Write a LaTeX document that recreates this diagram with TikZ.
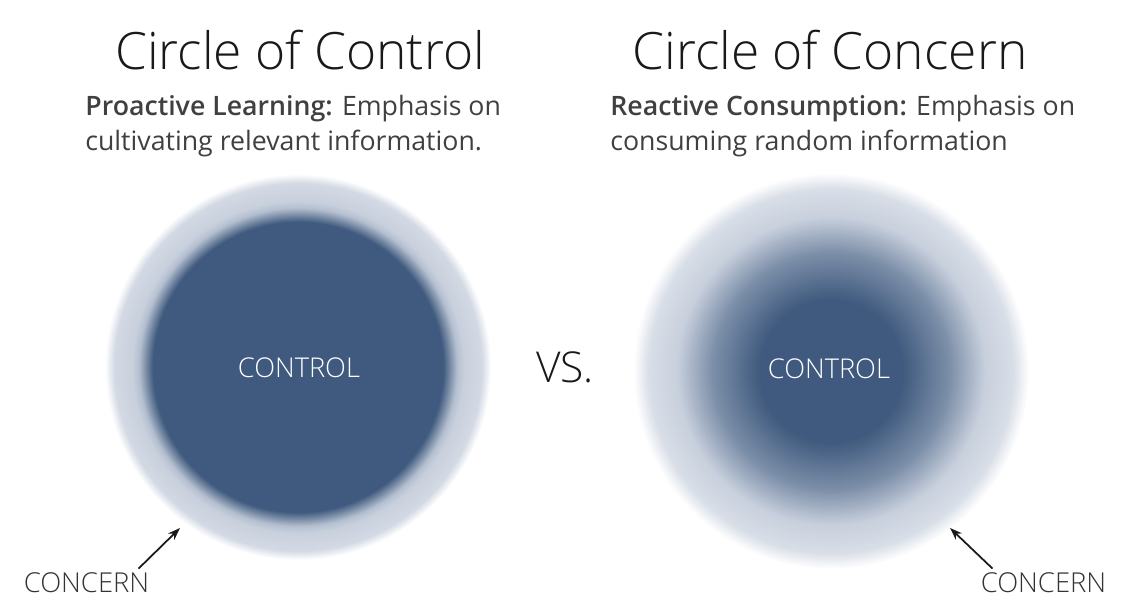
\documentclass[tikz,border=0pt]{standalone}
\usepackage{fontspec}
\setmainfont{Open Sans}
\newfontfamily\lightfont{Open Sans Light}
\newfontfamily\semifont{Open Sans Semibold}
\usepackage{tikz}
\usetikzlibrary{arrows.meta,positioning}
\definecolor{ctrlblue}{HTML}{3F5A7E}
\definecolor{halo}{HTML}{C8D0DD}
\definecolor{txtgray}{HTML}{404040}
% stops: circle edge sits at 25bp
\pgfdeclareradialshading{shadeL}{\pgfpoint{0bp}{0bp}}{color(0bp)=(ctrlblue); color(18.8bp)=(ctrlblue); color(20.6bp)=(halo!85!ctrlblue); color(21.5bp)=(halo); color(23.8bp)=(halo!80!white); color(25bp)=(white); color(50bp)=(white)}
\pgfdeclareradialshading{shadeR}{\pgfpoint{0bp}{0bp}}{color(0bp)=(ctrlblue); color(9bp)=(ctrlblue); color(15bp)=(ctrlblue!55!halo); color(19.5bp)=(halo); color(23bp)=(halo!70!white); color(25bp)=(white); color(50bp)=(white)}
\tikzset{
  titletxt/.style={font=\lightfont\fontsize{29.3}{34}\selectfont,text=black!90},
  subtxt/.style={font=\fontsize{15.2}{20}\selectfont,text=txtgray,align=left,anchor=north west,inner sep=0pt},
  ctrltxt/.style={font=\lightfont\fontsize{15.5}{18}\selectfont,text=white},
  concerntxt/.style={font=\lightfont\fontsize{15.6}{18}\selectfont,text=black!80,inner sep=0pt},
  arrowline/.style={-{Stealth[length=7pt,width=5pt]},line width=1pt,black!90}
}
\begin{document}
\begin{tikzpicture}[x=0.02cm,y=-0.02cm]
 \useasboundingbox (0,0) rectangle (1146,613);
 % circles
 \shade[shading=shadeL] (298,367) circle (193);
 \shade[shading=shadeR] (831,371) circle (198);
 % titles
 \node[titletxt] (titleL) at (300,50) {Circle of Control};
 \node[titletxt] (titleR) at (830,50) {Circle of Concern};
 \node[subtxt] (subL) at (85,95) {{\semifont Proactive Learning:} Emphasis on\\cultivating relevant information.};
 \node[subtxt] (subR) at (610,95) {{\semifont Reactive Consumption:} Emphasis on\\consuming random information};
 \node[titletxt,font=\lightfont\fontsize{24.2}{28}\selectfont] (vs) at (565,367) {VS.};
 % labels
 \node[ctrltxt] (ctrlL) at (299,368) {CONTROL};
 \node[ctrltxt] (ctrlR) at (829,369) {CONTROL};
 \node[concerntxt] (concernL) at (86.5,583) {CONCERN};
 \node[concerntxt] (concernR) at (1043.5,583) {CONCERN};
 \coordinate (haloL) at (180,528);
 \coordinate (haloR) at (950,528);
 \draw[arrowline] ([xshift=-0.22cm,yshift=0.08cm]concernL.north east) -- (haloL);
 \draw[arrowline] ([xshift=-1.02cm,yshift=0.08cm]concernR.north) -- (haloR);
\end{tikzpicture}
\end{document}
